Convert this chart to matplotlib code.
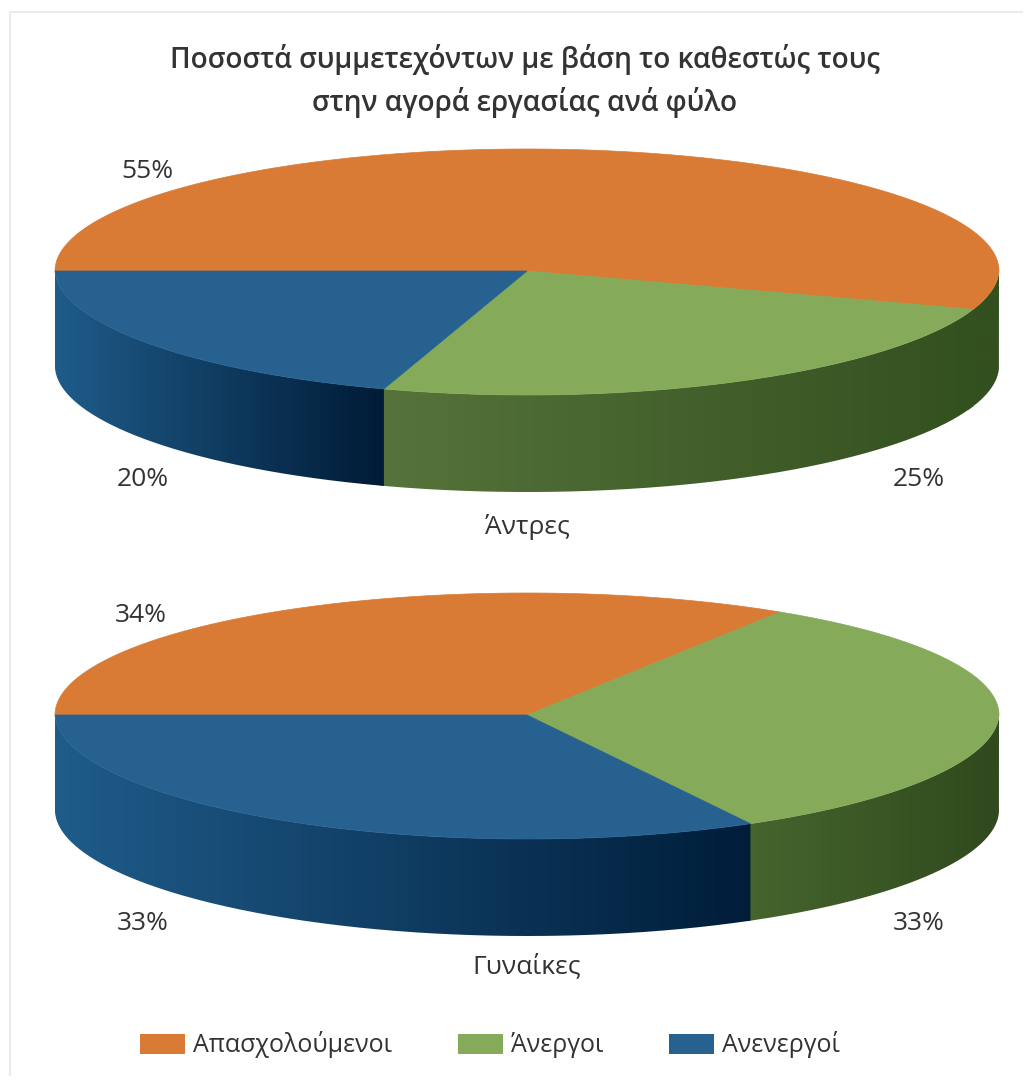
import numpy as np
import matplotlib
matplotlib.use("Agg")
import matplotlib.pyplot as plt
from matplotlib.colors import LinearSegmentedColormap
from matplotlib.patches import Patch, PathPatch
from matplotlib.path import Path

plt.rcParams['font.family'] = ['Open Sans', 'DejaVu Sans']

# Daten
title = "Ποσοστά συμμετεχόντων με βάση το καθεστώς τους\nστην αγορά εργασίας ανά φύλο"
categories = ["Απασχολούμενοι", "Άνεργοι", "Ανενεργοί"]
men_values = [55, 25, 20]
women_values = [34, 33, 33]
men_name = "Άντρες"
women_name = "Γυναίκες"

top_colors = ["#d97b35", "#84aa5a", "#26618f"]
text_color = "#333333"

RX, RY_BACK, RY_FRONT, DEPTH = 472, 122, 124, 97


def ellipse(cx, cy, angles):
    # vorne etwas flacher in x, etwas hoeher in y (Perspektive)
    rad = np.radians(angles)
    front = np.clip(-np.sin(rad), 0, 1)
    ry = np.where(np.sin(rad) < 0, RY_FRONT, RY_BACK)
    return cx + RX * np.cos(rad) * (1 - 0.02 * front), cy - ry * np.sin(rad)


def draw_side(ax, cx, cy, start, end, left, right):
    # nur der sichtbare untere Rand
    start, end = max(start, -180), min(end, 0)
    if end <= start:
        return
    x, y = ellipse(cx, cy, np.linspace(start, end, 200))
    vx = np.r_[x, x[::-1], x[0]]
    vy = np.r_[y, y[::-1] + DEPTH, y[0]]
    patch = PathPatch(Path(np.c_[vx, vy]), facecolor="none", edgecolor="none")
    ax.add_patch(patch)
    cmap = LinearSegmentedColormap.from_list("side", [left, right])
    im = ax.imshow(np.linspace(0, 1, 256).reshape(1, -1), cmap=cmap, aspect="auto",
                   extent=[x.min(), x.max(), vy.max(), vy.min()], zorder=2)
    im.set_clip_path(patch)


def draw_pie(ax, cx, cy, values, green_side, blue_side):
    # Start links (180 Grad), im Uhrzeigersinn
    edges = 180 - np.cumsum([0] + values) * 3.6
    # unter dem Orange bleibt der Rand dunkelgruen
    draw_side(ax, cx, cy, edges[1] - 2, edges[0], green_side[1], green_side[1])
    # gruen leicht unter das Blau ziehen, sonst bleibt eine helle Naht
    draw_side(ax, cx, cy, edges[2] - 0.5, edges[1], green_side[0], green_side[1])
    draw_side(ax, cx, cy, edges[3], edges[2], blue_side[0], blue_side[1])
    for i, color in enumerate(top_colors):
        x, y = ellipse(cx, cy, np.linspace(edges[i], edges[i + 1], 300))
        ax.fill(np.r_[cx, x], np.r_[cy, y], color=color, lw=0.5, zorder=3)


def draw_labels(ax, cx, cy, values, name, name_dy, top_dx):
    ax.text(cx + top_dx, cy - 100, f"{values[0]}%", **label_style)
    ax.text(cx + 392, cy + 209, f"{values[1]}%", **label_style)
    ax.text(cx - 384, cy + 209, f"{values[2]}%", **label_style)
    ax.text(cx, cy + name_dy, name, **label_style)


fig = plt.figure(figsize=(10.34, 10.90), dpi=100)
ax = fig.add_axes([0, 0, 1, 1])
label_style = dict(ha="center", va="center", fontsize=19, color=text_color)

# Rahmen, nur oben und links sichtbar
ax.plot([9.5, 9.5, 1022], [1075, 11.5, 11.5], color="#ebebeb", lw=1.5, zorder=0)

draw_pie(ax, 527, 271, men_values, ("#55733a", "#33501f"), ("#1f5c8a", "#001b36"))
draw_pie(ax, 527, 715, women_values, ("#45652d", "#30491d"), ("#1f5c8a", "#001d3a"))
draw_labels(ax, 527, 271, men_values, men_name, 256, -380)
draw_labels(ax, 527, 715, women_values, women_name, 251, -386)

ax.text(525, 81, title, ha="center", va="center", fontsize=20.2, fontweight="semibold",
        color=text_color, linespacing=1.5)

handles = [Patch(facecolor=c, edgecolor="none") for c in top_colors]
ax.legend(handles, categories, loc="center", bbox_to_anchor=(490 / 1034, 1 - 1045 / 1090),
          bbox_transform=fig.transFigure, ncols=3, frameon=False, fontsize=18,
          labelcolor=text_color, handlelength=1.8, handleheight=0.9, handletextpad=0.3,
          columnspacing=2.65, borderpad=0)

ax.set_xlim(0, 1034)
ax.set_ylim(1090, 0)
ax.axis("off")

fig.savefig("out.png", dpi=100)
